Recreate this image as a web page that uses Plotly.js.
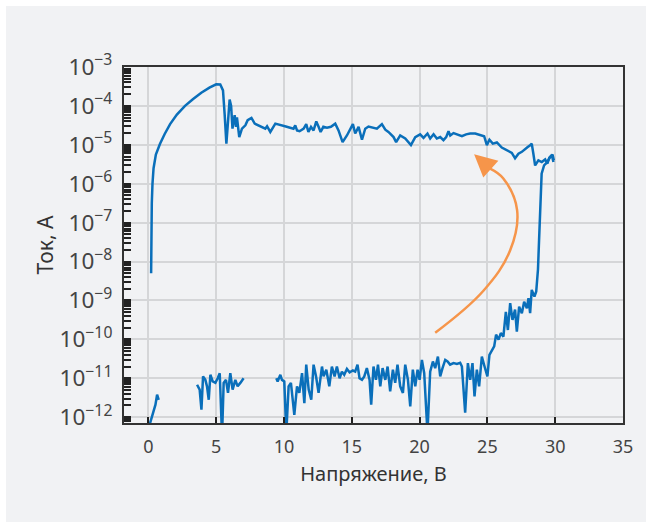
<!DOCTYPE html>
<html>
<head>
<meta charset="utf-8">
<script src="https://cdn.plot.ly/plotly-3.0.1.min.js"></script>
<style>
html,body{margin:0;padding:0;background:#ffffff;}
body{padding:6px 0 0 6px;width:646px;height:516px;overflow:hidden;}
#chart{width:640px;height:516px;}
</style>
</head>
<body>
<div id="chart"></div>
<script>
// Forward sweep (lower branch, gaps as null), voltage in V, current in A
const vForward = [0.0,0.27,0.52,0.64,0.76,null,
 3.59,3.78,3.91,4.03,4.20,4.32,4.45,4.57,4.74,4.94,5.11,5.26,5.43,5.55,5.72,5.87,6.04,6.21,6.41,6.58,6.78,7.02,null,
 9.43,9.53,9.73,9.85,10.02,10.17,10.34,10.51,10.76,10.96,11.13,11.33,11.50,11.64,11.82,12.01,12.18,12.36,12.55,12.80,12.92,13.12,13.34,13.53,13.73,13.90,
 14.10,14.27,14.44,14.64,14.84,15.08,15.25,15.42,15.57,15.75,15.92,16.11,16.31,16.43,16.60,16.78,16.93,17.10,17.27,17.47,17.64,17.83,18.03,18.20,18.37,
 18.57,18.77,18.94,19.14,19.31,19.50,19.68,19.85,20.00,20.17,20.34,20.58,20.78,20.98,21.15,21.35,21.52,21.69,21.89,22.06,22.25,22.50,22.75,22.99,23.12,
 23.36,23.56,23.73,23.90,24.05,24.22,24.39,24.59,24.79,25.00,25.15,25.33,25.50,25.64,25.82,25.99,26.18,26.36,26.51,26.68,26.85,27.04,27.17,27.34,27.54,
 27.71,27.91,28.03,28.15,28.27,28.47,28.60,28.66,28.73,28.81,28.89,29.00,29.18,29.40,29.60,29.80,29.90];
const iForward = [5.0e-13,1.15e-12,2.1e-12,3.8e-12,2.8e-12,null,
 6.8e-12,5.1e-12,1.55e-12,1.12e-11,9.1e-12,6.2e-12,2.8e-12,1.23e-11,8.3e-12,7.6e-12,1.0e-11,1.35e-11,3.2e-13,7.6e-12,9.1e-12,4.2e-12,1.35e-11,5.1e-12,9.1e-12,6.2e-12,7.6e-12,1.0e-11,null,
 1.0e-11,8.3e-12,1.23e-11,9.1e-12,8.3e-12,4.0e-13,6.2e-12,7.6e-12,1.15e-12,6.2e-12,4.2e-12,1.35e-11,2.3e-12,2.24e-11,5.1e-12,2.8e-12,2.24e-11,1.12e-11,4.2e-12,2.0e-11,1.12e-11,1.66e-11,6.2e-12,2.0e-11,1.12e-11,2.0e-11,
 1.0e-11,1.48e-11,1.23e-11,1.74e-11,1.41e-11,1.58e-11,1.48e-11,2.24e-11,1.0e-11,9.1e-12,1.12e-11,1.82e-11,9.1e-12,2.1e-12,2.0e-11,9.1e-12,2.24e-11,6.2e-12,1.82e-11,9.1e-12,2.0e-11,4.6e-12,1.66e-11,7.6e-12,2.24e-11,
 6.2e-12,4.2e-12,2.24e-11,9.1e-12,1.9e-12,1.66e-11,6.2e-12,1.66e-11,9.1e-12,2.95e-11,1.35e-11,4.0e-13,1.48e-11,2.7e-11,1.82e-11,3.6e-11,1.12e-11,1.82e-11,2.95e-11,2.7e-11,2.24e-11,2.45e-11,2.34e-11,2.5e-11,2.0e-11,
 1.3e-12,2.45e-11,9.1e-12,2.45e-11,3.4e-12,1.66e-11,6.2e-12,3.6e-11,2.0e-11,1.12e-11,4.0e-11,5.4e-11,6.6e-11,1.32e-10,9.8e-11,1.45e-10,1.17e-10,5.1e-10,1.74e-10,8.5e-10,3.16e-10,5.8e-10,1.58e-10,6.9e-10,4.7e-10,
 9.3e-10,6.3e-10,1.15e-9,4.7e-10,1.86e-9,1.26e-9,1.7e-9,2.8e-9,6.3e-9,3.5e-8,2.5e-7,1.82e-6,2.95e-6,3.55e-6,4.7e-6,5.6e-6,4.0e-6];

// Reverse sweep (upper branch)
const vReverse = [0.20,0.22,0.25,0.30,0.38,0.55,0.85,1.20,1.60,2.10,2.70,3.30,3.90,4.50,5.00,5.30,5.50,5.62,5.75,5.85,5.99,6.10,6.20,6.36,6.46,6.53,6.70,6.90,
 7.15,7.32,7.60,7.84,8.13,8.38,8.62,8.75,8.99,9.36,9.73,10.20,10.70,10.83,10.96,11.15,11.45,11.64,11.80,11.99,12.18,12.38,12.55,12.70,12.90,13.17,13.46,13.78,
 14.02,14.32,14.64,14.89,15.08,15.25,15.50,15.75,15.99,16.23,16.60,16.85,17.22,17.47,17.70,18.08,18.27,18.57,18.94,19.36,19.68,20.04,20.29,20.58,20.78,21.03,
 21.27,21.52,21.76,21.96,22.13,22.26,22.50,22.80,23.12,23.43,23.73,24.10,24.47,24.76,24.96,25.15,25.40,25.70,26.06,26.43,26.80,27.04,27.29,27.54,27.78,27.95,
 28.15,28.27,28.39,28.52,28.76,29.01,29.26,29.42,29.57,29.75,29.87];
const iReverse = [5.0e-9,6.3e-8,3.16e-7,1.0e-6,2.5e-6,5.6e-6,1.05e-5,1.9e-5,3.4e-5,6.0e-5,1.0e-4,1.51e-4,2.19e-4,2.95e-4,3.6e-4,3.55e-4,2.5e-4,6.3e-5,1.07e-5,3.16e-5,1.45e-4,1.0e-4,2.6e-5,5.8e-5,2.9e-5,5.1e-5,1.58e-5,2.6e-5,
 3.16e-5,4.3e-5,4.9e-5,3.5e-5,3.16e-5,2.9e-5,2.6e-5,3.0e-5,2.14e-5,3.5e-5,3.16e-5,2.9e-5,2.6e-5,3.16e-5,2.34e-5,2.24e-5,2.6e-5,3.4e-5,2.14e-5,2.9e-5,2.34e-5,4.0e-5,2.9e-5,2.14e-5,2.9e-5,2.75e-5,2.9e-5,3.5e-5,
 2.34e-5,1.17e-5,1.74e-5,2.6e-5,3.4e-5,1.95e-5,2.9e-5,1.35e-5,2.6e-5,2.95e-5,2.75e-5,2.6e-5,3.4e-5,2.45e-5,2.14e-5,1.58e-5,1.17e-5,1.74e-5,1.45e-5,9.8e-6,1.58e-5,1.86e-5,1.51e-5,1.95e-5,1.45e-5,1.86e-5,
 1.45e-5,1.58e-5,1.32e-5,1.58e-5,2.24e-5,1.74e-5,2.0e-5,1.86e-5,1.66e-5,1.86e-5,1.95e-5,1.95e-5,1.74e-5,1.66e-5,9.8e-6,1.35e-5,1.07e-5,1.15e-5,8.5e-6,7.2e-6,6.2e-6,4.5e-6,5.9e-6,6.6e-6,7.9e-6,8.7e-6,
 9.8e-6,1.07e-5,5.9e-6,2.95e-6,4.0e-6,3.6e-6,4.2e-6,3.3e-6,4.7e-6,5.4e-6,3.6e-6];

// Orange direction arrow (curve body)
const vArrow = [21.15,24.69,26.68,27.19,26.16,25.20];
const iArrow = [1.48e-10,1.75e-9,1.95e-8,2.1e-7,1.38e-6,2.45e-6];

const xTicks = [0,5,10,15,20,25,30,35];

const BLUE = '#0a6fba';
const ORANGE = '#f6954a';
const FONT = '"Noto Sans", "Open Sans", "DejaVu Sans", sans-serif';

const traces = [
  {x: vArrow, y: iArrow, mode: 'lines', line: {color: ORANGE, width: 2.5, shape: 'spline', smoothing: 1.1}, hoverinfo: 'skip', showlegend: false},
  {x: vForward, y: iForward, mode: 'lines', connectgaps: false, line: {color: BLUE, width: 2.5}, showlegend: false},
  {x: vReverse, y: iReverse, mode: 'lines', line: {color: BLUE, width: 2.5}, showlegend: false}
];

const layout = {
  width: 640, height: 516,
  margin: {l: 118, r: 23, t: 61, b: 99},
  paper_bgcolor: '#f1f2f4',
  plot_bgcolor: '#f1f2f4',
  font: {family: FONT, color: '#444', size: 18},
  showlegend: false,
  xaxis: {
    range: [-1.8, 35],
    tickmode: 'array', tickvals: xTicks, ticktext: xTicks.map(String),
    ticks: 'inside', ticklen: 6, tickwidth: 2, tickcolor: '#222',
    showline: true, linecolor: '#333', linewidth: 2, mirror: true,
    showgrid: true, gridcolor: '#d5d6d8', gridwidth: 1.5,
    zeroline: false,
    ticklabelstandoff: 6,
    tickfont: {size: 18, color: '#444', family: FONT},
    title: {text: 'Напряжение, В', font: {size: 20, color: '#333', family: FONT}, standoff: 10}
  },
  yaxis: {
    type: 'log',
    range: [-12.15, -3],
    dtick: 1,
    exponentformat: 'power',
    ticks: 'inside', ticklen: 7, tickwidth: 2, tickcolor: '#222',
    minor: {ticks: 'inside', ticklen: 7, tickwidth: 1.5, tickcolor: '#222', dtick: 'D1', showgrid: false},
    showline: true, linecolor: '#333', linewidth: 2, mirror: true,
    showgrid: true, gridcolor: '#d5d6d8', gridwidth: 1.5,
    zeroline: false,
    ticklabelstandoff: 6,
    tickfont: {size: 18, color: '#444', family: FONT},
    title: {text: 'Ток, А', font: {size: 21, color: '#333', family: FONT}, standoff: 0}
  },
  annotations: [{
    x: 24.02, y: -5.24, xref: 'x', yref: 'y',
    ax: 25.2, ay: -5.61, axref: 'x', ayref: 'y',
    text: '', showarrow: true, arrowhead: 2, arrowsize: 1.8, arrowwidth: 2.5,
    arrowcolor: ORANGE, standoff: 0, startstandoff: 0
  }]
};

Plotly.newPlot('chart', traces, layout, {displayModeBar: false});
</script>
</body>
</html>
